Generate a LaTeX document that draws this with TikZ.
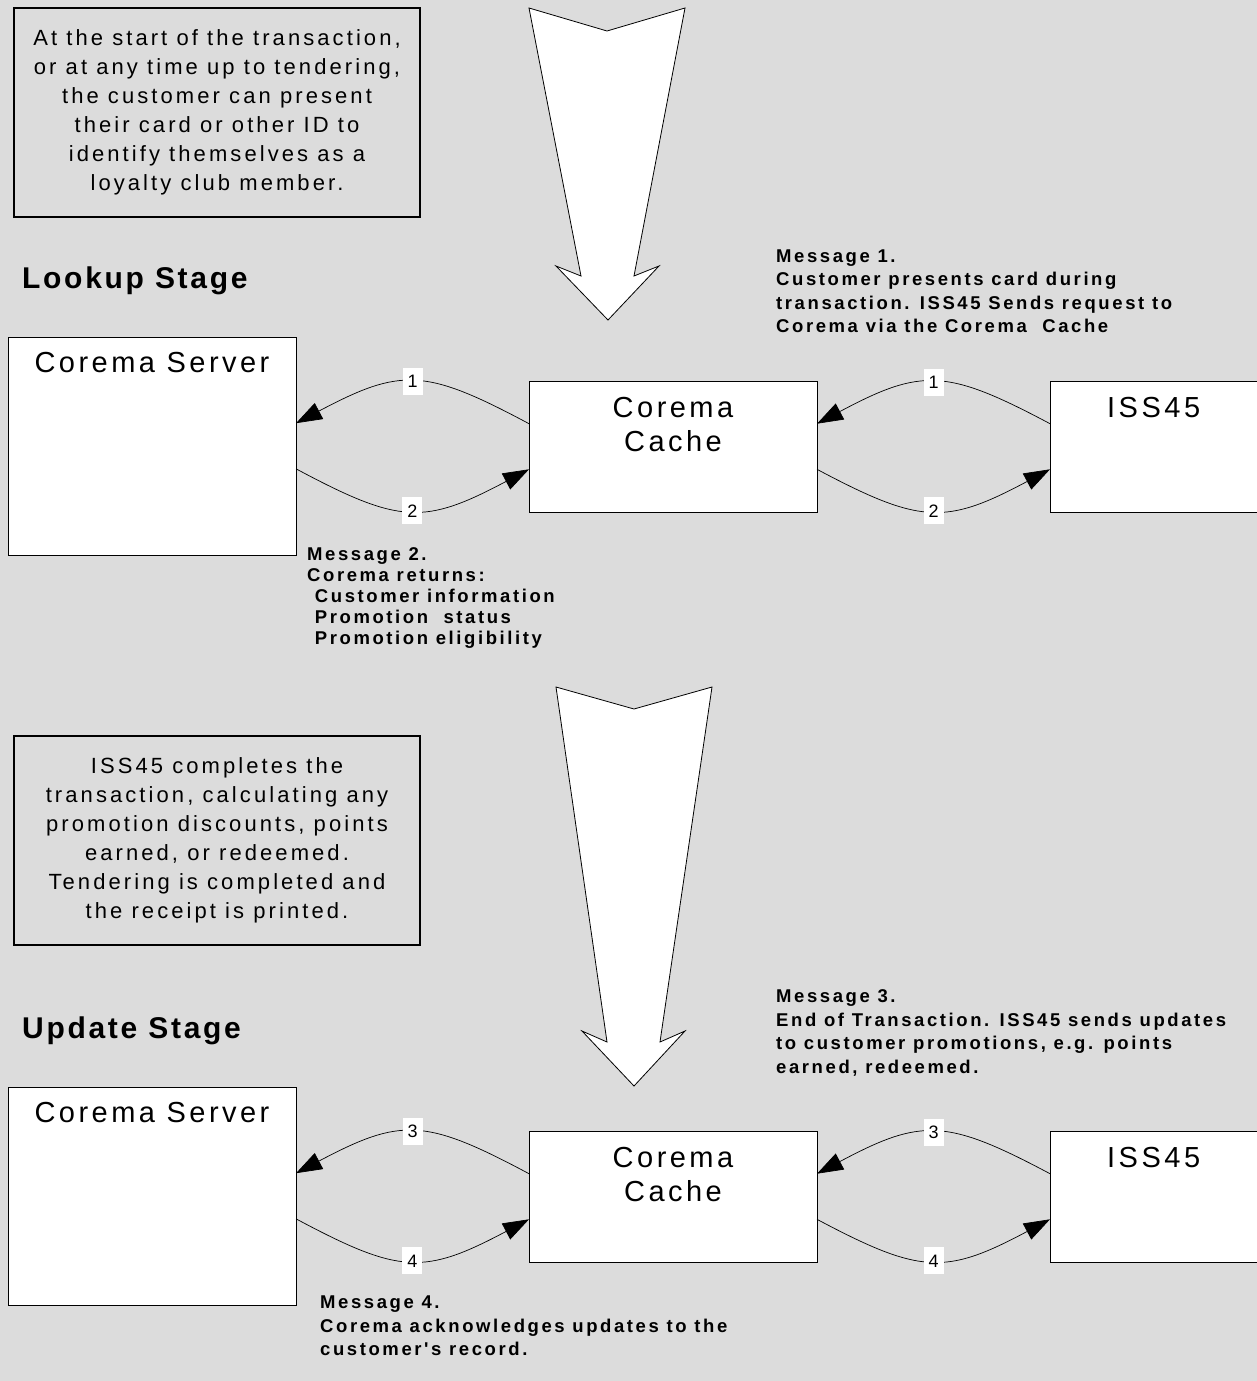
\documentclass[tikz,border=0pt]{standalone}
\usepackage{fontspec}
\setmainfont{Liberation Sans}
\newfontfamily\boxfont[LetterSpace=14]{Liberation Sans}
\newfontfamily\msgfont[LetterSpace=14]{Liberation Sans}
\newfontfamily\titlefont[LetterSpace=12]{Liberation Sans}
\newfontfamily\stagefont[LetterSpace=9]{Liberation Sans}
\usetikzlibrary{arrows.meta}
\definecolor{bggray}{RGB}{220,220,220}

\begin{document}
\begin{tikzpicture}[
  x=1pt, y=-1pt,
  notebox/.style={draw, line width=1.5pt, fill=bggray, minimum width=406pt,
    minimum height=209pt, align=center, font=\boxfont\fontsize{22}{29}\selectfont},
  unit/.style={draw, line width=0.8pt, fill=white, anchor=north west,
    inner sep=0pt, outer sep=0pt, minimum width=288pt},
  unitname/.style={inner sep=0pt, align=center, font=\titlefont\fontsize{29}{34}\selectfont},
  stage/.style={anchor=base west, inner sep=0pt, font=\stagefont\bfseries\fontsize{30}{36}\selectfont},
  message/.style={anchor=north west, align=left, inner sep=0pt,
    font=\msgfont\bfseries\fontsize{18.5}{23.5}\selectfont},
  msg/.style={-{Triangle[length=26pt,width=18pt]}, line width=0.7pt, bend right=28, looseness=1.3},
  num/.style={fill=white, inner xsep=5pt, inner ysep=0pt, minimum height=27pt,
    font=\fontsize{18}{20}\selectfont},
  bigarrow/.style={draw, fill=white, line width=0.8pt, line join=miter},
]
  \useasboundingbox (0,0) rectangle (1257,1381);
  \fill[bggray] (0,0) rectangle (1257,1381);

  % lookup stage
  \node[notebox] (start) at (217,112.5) {At the start of the transaction,\\
    or at any time up to tendering,\\ the customer can present\\
    their card or other ID to\\ identify themselves as a\\ loyalty club member.};
  \draw[bigarrow] (529,8) -- (607,31) -- (685,8) -- (634,276) -- (659,266)
    -- (608,320) -- (556,266) -- (581,276) -- cycle;
  \node[stage] (lookup) at (22,288.5) {Lookup Stage};
  \node[message] (msg1) at (776,249.5) {Message 1.\\ Customer presents card during\\
    transaction. ISS45 Sends request to\\ Corema via the Corema~ Cache};

  \node[unit, minimum height=218pt,
    label={[unitname, anchor=north, yshift=-15.5pt]north:Corema Server}] (server1) at (8,337) {};
  \node[unit, minimum height=131pt,
    label={[unitname, anchor=north, yshift=-16.5pt]north:Corema\\Cache}] (cache1) at (529,381) {};
  \node[unit, minimum height=131pt,
    label={[unitname, anchor=north west, xshift=57pt, yshift=-16.5pt]north west:ISS45}] (iss1) at (1050,381) {};

  \draw[msg] (cache1.171) to node[num] {1} (server1.9);
  \draw[msg] (server1.-9) to node[num] {2} (cache1.189);
  \draw[msg] (iss1.171) to node[num] {1} (cache1.9);
  \draw[msg] (cache1.-9) to node[num] {2} (iss1.189);

  \node[message, font=\msgfont\bfseries\fontsize{18.5}{21}\selectfont] (msg2) at (307,547.5)
    {Message 2.\\ Corema returns:\\ ~Customer information\\ ~Promotion~ status\\ ~Promotion eligibility};

  % update stage
  \node[notebox] (finish) at (217,840.5) {ISS45 completes the\\
    transaction, calculating any\\ promotion discounts, points\\
    earned, or redeemed.\\ Tendering is completed and\\ the receipt is printed.};
  \draw[bigarrow] (556,687) -- (634,709) -- (712,687) -- (660,1042) -- (685,1031)
    -- (634,1086) -- (582,1031) -- (607,1042) -- cycle;
  \node[stage] (update) at (22,1038.5) {Update Stage};
  \node[message] (msg3) at (776,989.5) {Message 3.\\ End of Transaction. ISS45 sends updates\\
    to customer promotions, e.g. points\\ earned, redeemed.};

  \node[unit, minimum height=218pt,
    label={[unitname, anchor=north, yshift=-15.5pt]north:Corema Server}] (server2) at (8,1087) {};
  \node[unit, minimum height=131pt,
    label={[unitname, anchor=north, yshift=-16.5pt]north:Corema\\Cache}] (cache2) at (529,1131) {};
  \node[unit, minimum height=131pt,
    label={[unitname, anchor=north west, xshift=57pt, yshift=-16.5pt]north west:ISS45}] (iss2) at (1050,1131) {};

  \draw[msg] (cache2.171) to node[num] {3} (server2.9);
  \draw[msg] (server2.-9) to node[num] {4} (cache2.189);
  \draw[msg] (iss2.171) to node[num] {3} (cache2.9);
  \draw[msg] (cache2.-9) to node[num] {4} (iss2.189);

  \node[message] (msg4) at (320,1296) {Message 4.\\ Corema acknowledges updates to the\\
    customer's record.};
\end{tikzpicture}
\end{document}
